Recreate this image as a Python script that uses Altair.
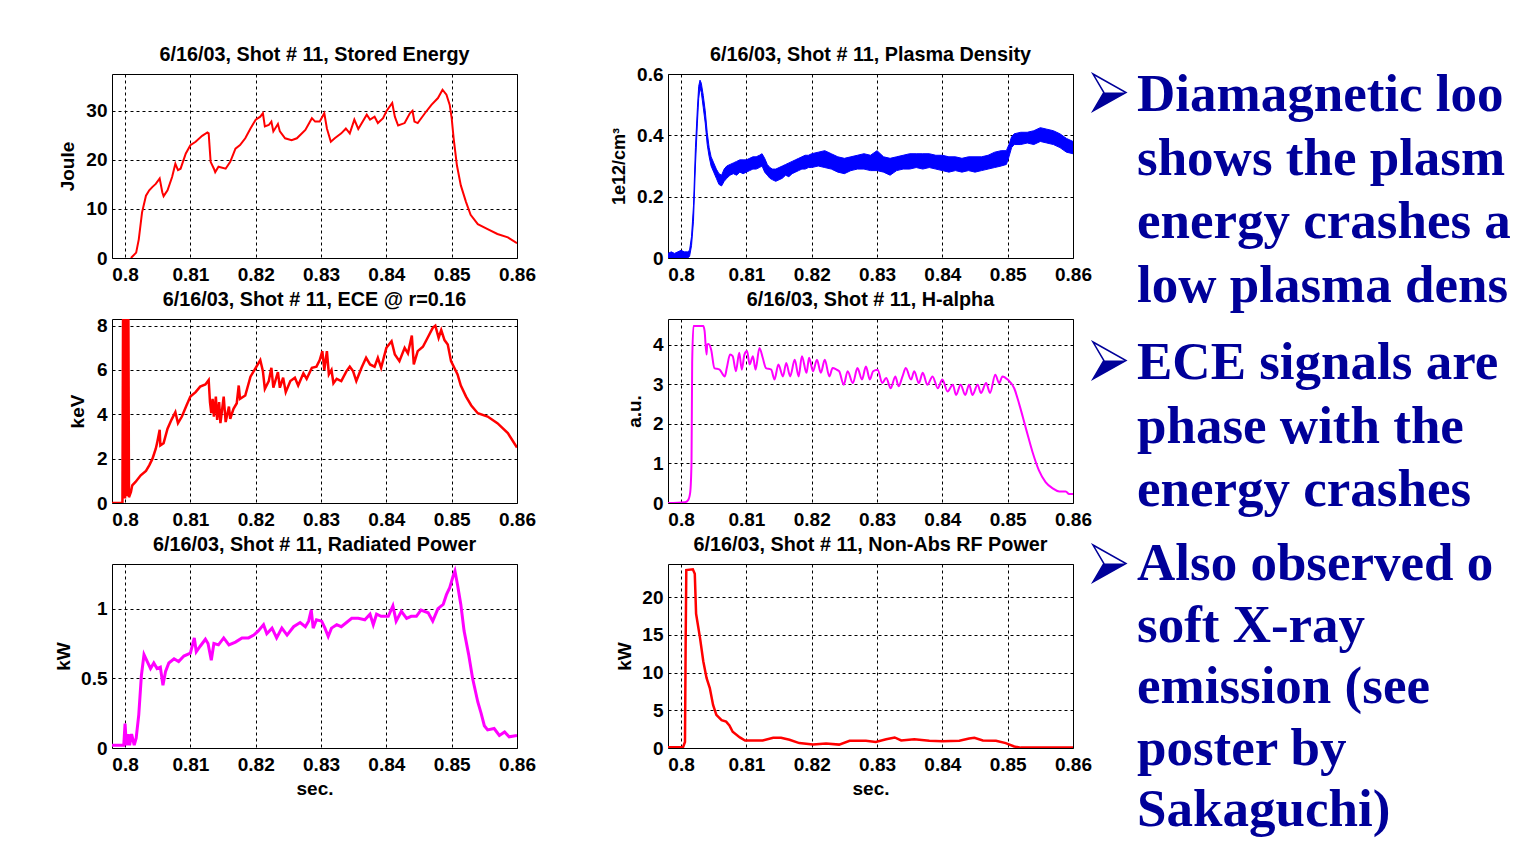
import altair as alt
import pandas as pd

FONT = "Liberation Sans"
SERIF = "Liberation Serif"
NAVY = "#000099"
RED = "#ff0000"
BLUE = "#0000ff"
MAGENTA = "#ff00ff"

T_DOMAIN = [0.798, 0.86]
X_TICKS = [0.8, 0.81, 0.82, 0.83, 0.84, 0.85, 0.86]
PW, PH = 405, 184

# ---- Stored Energy (Joule) ----
STORED = [
    (0.8009, 0), (0.8017, 1.1), (0.8021, 3.8), (0.8026, 9.3), (0.8032, 12.7), (0.8037, 13.8),
    (0.8042, 14.5), (0.8047, 15.1), (0.8053, 16.2), (0.8057, 13.4), (0.8059, 12.6), (0.8065, 13.8),
    (0.8072, 16.5), (0.8077, 19.2), (0.8081, 17.9), (0.8085, 18.2), (0.8093, 21.3), (0.8100, 23.0),
    (0.8108, 23.7), (0.8118, 24.9), (0.8126, 25.6), (0.8128, 25.4), (0.8131, 19.6), (0.8136, 18.2),
    (0.8138, 17.5), (0.8143, 18.6), (0.8154, 18.2), (0.8161, 19.6), (0.8169, 22.3), (0.8176, 23.0),
    (0.8184, 24.4), (0.8192, 26.4), (0.8200, 28.2), (0.8207, 28.8), (0.8211, 29.5), (0.8214, 26.8),
    (0.8220, 27.1), (0.8224, 27.8), (0.8227, 25.8), (0.8234, 27.3), (0.8237, 25.8), (0.8245, 24.4),
    (0.8255, 24.0), (0.8263, 24.4), (0.8276, 26.1), (0.8286, 28.5), (0.8291, 27.8), (0.8298, 27.8),
    (0.8305, 29.5), (0.8309, 26.4), (0.8315, 23.7), (0.8321, 24.4), (0.8331, 25.4), (0.8338, 26.4),
    (0.8344, 25.4), (0.8351, 28.2), (0.8357, 26.3), (0.8370, 29.2), (0.8375, 28.2), (0.8382, 28.8),
    (0.8387, 27.5), (0.8395, 28.5), (0.8400, 29.9), (0.8409, 31.6), (0.8413, 28.8), (0.8418, 27.0),
    (0.8428, 27.5), (0.8436, 29.5), (0.8440, 30.0), (0.8443, 27.8), (0.8448, 27.5), (0.8459, 29.5),
    (0.8469, 31.2), (0.8479, 32.6), (0.8486, 34.3), (0.8492, 33.3), (0.8497, 31.2), (0.8500, 28.5),
    (0.8503, 24.4), (0.8508, 18.9), (0.8514, 14.8), (0.8522, 11.4), (0.8529, 8.8), (0.8540, 6.9),
    (0.8555, 5.9), (0.8570, 4.9), (0.8586, 4.2), (0.8600, 3.0),
]

# ---- Plasma Density (1e12/cm^3): noisy band (t, low, high) ----
DENSITY = [
    (0.798, 0.0, 0.015), (0.7985, 0.0, 0.02), (0.799, 0.0, 0.015), (0.7995, 0.0, 0.02),
    (0.8, 0.0, 0.025), (0.8005, 0.0, 0.02), (0.801, 0.0, 0.02), (0.8013, 0.005, 0.025),
    (0.8016, 0.04, 0.07), (0.8019, 0.12, 0.17), (0.8022, 0.30, 0.36), (0.8025, 0.44, 0.49),
    (0.8027, 0.52, 0.56), (0.8029, 0.555, 0.58), (0.8031, 0.54, 0.57), (0.8034, 0.49, 0.53),
    (0.8037, 0.44, 0.48), (0.804, 0.37, 0.41), (0.8043, 0.33, 0.36), (0.8046, 0.30, 0.33),
    (0.805, 0.28, 0.31), (0.8054, 0.26, 0.29), (0.8058, 0.24, 0.275), (0.8062, 0.235, 0.27),
    (0.8066, 0.25, 0.29), (0.807, 0.26, 0.30), (0.8075, 0.27, 0.305), (0.808, 0.275, 0.31),
    (0.8085, 0.27, 0.315), (0.809, 0.28, 0.32), (0.8095, 0.275, 0.32), (0.81, 0.28, 0.32),
    (0.8105, 0.285, 0.325), (0.811, 0.29, 0.33), (0.8115, 0.29, 0.33), (0.812, 0.295, 0.335),
    (0.8124, 0.30, 0.34), (0.8128, 0.28, 0.325), (0.8132, 0.27, 0.305), (0.8136, 0.26, 0.295),
    (0.814, 0.255, 0.29), (0.8145, 0.25, 0.29), (0.815, 0.255, 0.295), (0.8155, 0.26, 0.30),
    (0.816, 0.27, 0.305), (0.8165, 0.265, 0.31), (0.817, 0.275, 0.315), (0.8175, 0.28, 0.32),
    (0.818, 0.285, 0.325), (0.8185, 0.29, 0.33), (0.819, 0.29, 0.335), (0.8195, 0.295, 0.335),
    (0.82, 0.295, 0.34), (0.821, 0.30, 0.345), (0.822, 0.295, 0.35), (0.823, 0.29, 0.34),
    (0.824, 0.28, 0.33), (0.825, 0.275, 0.325), (0.826, 0.285, 0.33), (0.827, 0.29, 0.335),
    (0.828, 0.29, 0.34), (0.829, 0.285, 0.335), (0.83, 0.285, 0.35), (0.831, 0.28, 0.33),
    (0.832, 0.27, 0.325), (0.833, 0.285, 0.33), (0.834, 0.29, 0.335), (0.835, 0.29, 0.34),
    (0.836, 0.295, 0.34), (0.837, 0.29, 0.34), (0.838, 0.295, 0.34), (0.839, 0.29, 0.335),
    (0.84, 0.285, 0.335), (0.841, 0.28, 0.33), (0.842, 0.285, 0.33), (0.843, 0.28, 0.325),
    (0.844, 0.285, 0.33), (0.845, 0.28, 0.33), (0.846, 0.285, 0.33), (0.847, 0.29, 0.335),
    (0.848, 0.295, 0.345), (0.849, 0.30, 0.35), (0.8498, 0.305, 0.35), (0.8502, 0.33, 0.37),
    (0.8506, 0.36, 0.395), (0.851, 0.37, 0.405), (0.852, 0.37, 0.41), (0.853, 0.375, 0.41),
    (0.854, 0.37, 0.415), (0.855, 0.38, 0.425), (0.856, 0.375, 0.42), (0.857, 0.37, 0.415),
    (0.858, 0.36, 0.405), (0.859, 0.345, 0.39), (0.86, 0.34, 0.38),
]

# ---- ECE @ r=0.16 (keV) ----
ECE = [
    (0.798, 0), (0.7996, 0), (0.7997, 9), (0.7998, 0.2), (0.7999, 9), (0.8000, 0.2), (0.8001, 9),
    (0.8002, 0.3), (0.8003, 9), (0.8004, 0.3), (0.8005, 9), (0.8006, 0.26), (0.8009, 0.5),
    (0.8011, 0.8), (0.8016, 0.95), (0.8024, 1.25), (0.8032, 1.45), (0.8037, 1.7), (0.8042, 2.0),
    (0.8047, 2.45), (0.8049, 2.7), (0.8053, 3.3), (0.8054, 2.6), (0.8059, 2.7), (0.8065, 3.35),
    (0.8071, 3.75), (0.8077, 4.1), (0.8081, 3.6), (0.8087, 3.9), (0.8094, 4.4), (0.8100, 4.8),
    (0.8108, 5.0), (0.8115, 5.25), (0.8123, 5.35), (0.8128, 5.55), (0.8130, 4.55), (0.8132, 4.05),
    (0.8134, 4.7), (0.8136, 3.9), (0.8139, 4.8), (0.8141, 3.75), (0.8144, 4.55), (0.8146, 3.6),
    (0.8151, 4.8), (0.8154, 3.65), (0.8159, 4.35), (0.8161, 3.8), (0.8166, 4.25), (0.8171, 4.5),
    (0.8174, 5.3), (0.8176, 4.7), (0.8184, 4.85), (0.8192, 5.7), (0.8200, 6.1), (0.8207, 6.45),
    (0.8211, 5.95), (0.8214, 5.15), (0.8220, 5.5), (0.8224, 6.1), (0.8227, 5.2), (0.8234, 5.9),
    (0.8237, 5.2), (0.8242, 5.65), (0.8246, 5.0), (0.8253, 5.5), (0.8260, 5.65), (0.8265, 5.3),
    (0.8273, 5.85), (0.8278, 5.6), (0.8286, 6.1), (0.8293, 6.15), (0.8298, 6.45), (0.8302, 6.85),
    (0.8305, 6.0), (0.8309, 6.85), (0.8312, 5.8), (0.8316, 6.0), (0.8319, 5.4), (0.8324, 5.6),
    (0.8331, 5.5), (0.8339, 5.95), (0.8344, 6.15), (0.8349, 5.95), (0.8354, 5.5), (0.8362, 6.1),
    (0.8369, 6.55), (0.8375, 6.25), (0.8382, 6.15), (0.8387, 6.55), (0.8392, 6.1), (0.8400, 7.0),
    (0.8408, 7.3), (0.8413, 6.7), (0.8420, 6.4), (0.8428, 7.0), (0.8433, 6.75), (0.8439, 7.55),
    (0.8442, 6.25), (0.8448, 6.85), (0.8456, 7.05), (0.8464, 7.5), (0.8471, 7.9), (0.8475, 8.0),
    (0.8480, 7.45), (0.8484, 7.8), (0.8489, 7.35), (0.8494, 7.15), (0.8499, 6.4), (0.8504, 6.1),
    (0.8509, 5.8), (0.8514, 5.3), (0.8522, 4.8), (0.8530, 4.4), (0.8540, 4.05), (0.8555, 3.9),
    (0.8570, 3.6), (0.8586, 3.15), (0.8600, 2.5),
]

# ---- H-alpha (a.u.) ----
HALPHA = [
    (0.798, 0), (0.8006, 0.02), (0.8011, 0.08), (0.8014, 0.27), (0.8016, 1.04), (0.8017, 3.54),
    (0.8019, 4.47), (0.8034, 4.47), (0.8036, 4.35), (0.8039, 3.75), (0.8040, 4.0), (0.8042, 4.02),
    (0.8046, 3.88), (0.8051, 3.41), (0.8059, 3.37), (0.8067, 3.2), (0.8070, 3.41), (0.8075, 3.75),
    (0.8079, 3.71), (0.8084, 3.33), (0.8089, 3.8), (0.8093, 3.37), (0.8097, 3.75), (0.8101, 3.84),
    (0.8105, 3.5), (0.8110, 3.71), (0.8114, 3.37), (0.8120, 3.92), (0.8125, 3.67), (0.8130, 3.41),
    (0.8138, 3.37), (0.8143, 3.12), (0.8149, 3.5), (0.8156, 3.2), (0.8161, 3.54), (0.8167, 3.2),
    (0.8174, 3.62), (0.8180, 3.2), (0.8185, 3.71), (0.8192, 3.29), (0.8196, 3.67), (0.8202, 3.33),
    (0.8208, 3.62), (0.8214, 3.29), (0.8220, 3.62), (0.8227, 3.2), (0.8232, 3.41), (0.8238, 3.37),
    (0.8242, 3.33), (0.8249, 2.99), (0.8255, 3.33), (0.8263, 3.03), (0.8270, 3.41), (0.8277, 3.12),
    (0.8283, 3.45), (0.8289, 3.12), (0.8294, 3.33), (0.8301, 3.37), (0.8308, 3.03), (0.8314, 3.16),
    (0.8321, 2.9), (0.8328, 3.2), (0.8333, 2.95), (0.8339, 3.2), (0.8344, 3.41), (0.8352, 3.12),
    (0.8357, 3.33), (0.8364, 3.03), (0.8370, 3.29), (0.8377, 2.99), (0.8385, 3.2), (0.8393, 2.9),
    (0.8400, 3.12), (0.8408, 2.82), (0.8416, 2.99), (0.8421, 2.73), (0.8428, 2.99), (0.8435, 2.73),
    (0.8441, 2.99), (0.8446, 2.73), (0.8454, 2.99), (0.8459, 2.78), (0.8467, 3.03), (0.8473, 2.78),
    (0.8481, 3.24), (0.8487, 3.03), (0.8492, 3.2), (0.8500, 3.12), (0.8510, 2.9), (0.8518, 2.48),
    (0.8528, 1.88), (0.8538, 1.29), (0.8548, 0.82), (0.8558, 0.53), (0.8569, 0.37), (0.8579, 0.29),
    (0.8589, 0.29), (0.8594, 0.23), (0.8600, 0.23),
]

# ---- Radiated Power (kW) ----
RADIATED = [
    (0.798, 0.02), (0.7998, 0.02), (0.8000, 0.175), (0.8002, 0.02), (0.8005, 0.1), (0.8007, 0.02),
    (0.8010, 0.1), (0.8014, 0.02), (0.8017, 0.07), (0.8021, 0.24), (0.8025, 0.52), (0.8029, 0.67),
    (0.8034, 0.62), (0.8039, 0.57), (0.8044, 0.61), (0.8049, 0.57), (0.8054, 0.58), (0.8058, 0.45),
    (0.8062, 0.55), (0.8067, 0.61), (0.8075, 0.64), (0.8082, 0.62), (0.8090, 0.66), (0.8100, 0.68),
    (0.8106, 0.79), (0.8109, 0.69), (0.8115, 0.73), (0.8123, 0.78), (0.8127, 0.75), (0.8132, 0.63),
    (0.8136, 0.75), (0.8143, 0.74), (0.8151, 0.79), (0.8159, 0.74), (0.8169, 0.76), (0.8179, 0.79),
    (0.8189, 0.79), (0.8197, 0.81), (0.8204, 0.84), (0.8212, 0.885), (0.8217, 0.82), (0.8225, 0.86),
    (0.8232, 0.79), (0.8240, 0.86), (0.8248, 0.81), (0.8258, 0.87), (0.8268, 0.9), (0.8276, 0.87),
    (0.8281, 0.91), (0.8285, 0.99), (0.8288, 0.86), (0.8293, 0.92), (0.8301, 0.91), (0.8306, 0.86),
    (0.8311, 0.8), (0.8316, 0.86), (0.8324, 0.885), (0.8331, 0.87), (0.8339, 0.9), (0.8347, 0.93),
    (0.8357, 0.93), (0.8367, 0.92), (0.8375, 0.96), (0.8380, 0.885), (0.8385, 0.96), (0.8392, 0.945),
    (0.8403, 0.945), (0.8410, 1.02), (0.8415, 0.91), (0.8423, 0.98), (0.8431, 0.93), (0.8438, 0.945),
    (0.8446, 0.945), (0.8453, 0.99), (0.8464, 0.97), (0.8471, 0.91), (0.8479, 1.0), (0.8487, 1.03),
    (0.8492, 1.1), (0.8497, 1.15), (0.8502, 1.23), (0.8505, 1.27), (0.8509, 1.17), (0.8514, 1.03),
    (0.8519, 0.84), (0.8526, 0.67), (0.8532, 0.5), (0.8540, 0.33), (0.8545, 0.25), (0.8550, 0.16),
    (0.8555, 0.13), (0.8565, 0.14), (0.8573, 0.09), (0.8581, 0.115), (0.8588, 0.08), (0.8600, 0.09),
]

# ---- Non-Abs RF Power (kW) ----
RF = [
    (0.798, 0.1), (0.8003, 0.1), (0.8006, 0.8), (0.8007, 13.75), (0.8008, 23.6), (0.8018, 23.7),
    (0.8021, 23.1), (0.8023, 17.8), (0.8029, 14.6), (0.8034, 11.5), (0.8039, 9.3), (0.8044, 7.95),
    (0.8049, 5.7), (0.8054, 4.4), (0.8062, 3.7), (0.8069, 3.5), (0.8074, 3.0), (0.8079, 2.15),
    (0.8090, 1.4), (0.8098, 1.0), (0.8110, 1.0), (0.8125, 1.0), (0.8141, 1.35), (0.8153, 1.35),
    (0.8166, 1.1), (0.8181, 0.65), (0.8202, 0.45), (0.8222, 0.6), (0.8242, 0.45), (0.8258, 0.95),
    (0.8283, 0.95), (0.8298, 0.8), (0.8314, 1.15), (0.8327, 1.4), (0.8337, 1.0), (0.8357, 1.15),
    (0.8380, 0.95), (0.8400, 0.9), (0.8426, 0.95), (0.8441, 1.25), (0.8449, 1.35), (0.8462, 1.0),
    (0.8482, 0.95), (0.8497, 0.65), (0.8510, 0.2), (0.8520, 0.05), (0.8600, 0.05),
]

BULLETS = [
    ["Diamagnetic loop", "shows the plasma", "energy crashes at", "low plasma density"],
    ["ECE signals are in", "phase with the", "energy crashes"],
    ["Also observed on", "soft X-ray", "emission (see", "poster by", "Sakaguchi)"],
]

ARROW_OUTLINE = "M -1 -1.12 L 1 0 L -1 1.12 L -0.34 0 Z"
ARROW_SHADE = "M -0.34 0 L 1 0 L -1 1.12 Z"


def x_enc(bottom):
    ax = dict(values=X_TICKS, format=".2~f", labelPadding=7)
    if bottom:
        ax.update(title="sec.", titleX=PW / 2, titleY=46, titleBaseline="alphabetic", titleAlign="center")
    else:
        ax.update(title=None)
    return alt.X("t:Q", scale=alt.Scale(domain=T_DOMAIN, nice=False, zero=False), axis=alt.Axis(**ax))


def y_enc(field, dom, ticks, fmt, title, tx, tsize=19):
    return alt.Y(
        f"{field}:Q",
        scale=alt.Scale(domain=dom, nice=False, zero=False),
        axis=alt.Axis(values=ticks, format=fmt, title=title, titleX=tx, titleY=PH / 2, titleAngle=270,
                      titleBaseline="middle", titleAlign="center", titleFontSize=tsize),
    )


def line_panel(data, color, sw, title, toff, ytitle, dom, ticks, fmt, tx, bottom=False, interp="linear"):
    df = pd.DataFrame(data, columns=["t", "v"])
    ch = alt.Chart(df).mark_line(color=color, strokeWidth=sw, clip=True, interpolate=interp).encode(
        x=x_enc(bottom), y=y_enc("v", dom, ticks, fmt, ytitle, tx)
    )
    return ch.properties(width=PW, height=PH, title=alt.TitleParams(title, offset=toff))


p1 = line_panel(STORED, RED, 2, "6/16/03, Shot # 11, Stored Energy", 9, "Joule",
                [0, 37.5], [0, 10, 20, 30], "d", -45)
p3 = line_panel(ECE, RED, 2.5, "6/16/03, Shot # 11, ECE @ r=0.16", 7, "keV",
                [0, 8.3], [0, 2, 4, 6, 8], "d", -35)
p4 = line_panel(HALPHA, MAGENTA, 2, "6/16/03, Shot # 11, H-alpha", 9, "a.u.",
                [0, 4.65], [0, 1, 2, 3, 4], "d", -34, interp="monotone")
p5 = line_panel(RADIATED, MAGENTA, 3, "6/16/03, Shot # 11, Radiated Power", 9, "kW",
                [0, 1.32], [0, 0.5, 1], ".1~f", -48.5, bottom=True)
p6 = line_panel(RF, RED, 2.5, "6/16/03, Shot # 11, Non-Abs RF Power", 9, "kW",
                [0, 24.4], [0, 5, 10, 15, 20], "d", -44, bottom=True)

# density panel, carrying the bullet text on its right
den = pd.DataFrame(DENSITY, columns=["t", "lo", "hi"])
band = alt.Chart(den).mark_area(color=BLUE, stroke=BLUE, strokeWidth=1, clip=True).encode(
    x=x_enc(False),
    y=y_enc("lo", [0, 0.6], [0, 0.2, 0.4, 0.6], ".1~f", "1e12/cm³", -48.5, tsize=18),
    y2="hi:Q",
)
one = pd.DataFrame({"k": [0]})
layers = [band]
# (first baseline relative to the panel top, line spacing, arrow centre relative to panel top)
BLOCK_POS = [(37, 63.5, 18.5), (305, 63.5, 286.5), (506, 61.5, 489.5)]
for lines, (ybase, lh, yarrow) in zip(BULLETS, BLOCK_POS):
    layers.append(
        alt.Chart(one).mark_point(shape=ARROW_OUTLINE, size=1089, filled=False, stroke=NAVY,
                                  strokeWidth=1.5, opacity=1).encode(
            x=alt.value(441.5), y=alt.value(yarrow))
    )
    layers.append(
        alt.Chart(one).mark_point(shape=ARROW_SHADE, size=1089, filled=True, fill=NAVY,
                                  strokeWidth=0, opacity=1).encode(
            x=alt.value(441.5), y=alt.value(yarrow))
    )
    layers.append(
        alt.Chart(one).mark_text(font=SERIF, fontSize=53, fontWeight="bold", color=NAVY, align="left",
                                 baseline="alphabetic", lineHeight=lh, limit=383,
                                 ellipsis="\u200b").encode(
            x=alt.value(469), y=alt.value(ybase), text=alt.value(lines))
    )
p2 = alt.layer(*layers).properties(
    width=PW, height=PH, title=alt.TitleParams("6/16/03, Shot # 11, Plasma Density", offset=0)
)

chart = alt.concat(p1, p2, p3, p4, p5, p6, columns=2, spacing={"row": 61, "column": 151}, bounds="flush")
chart = chart.properties(padding={"left": 46, "top": 36, "right": 0, "bottom": 0}, background="white")
chart = (
    chart.configure_view(stroke="black", strokeWidth=1)
    .configure_axis(
        labelFont=FONT, labelFontSize=19, labelFontWeight="bold", labelColor="black", labelPadding=5,
        labelFlush=False, titleFont=FONT, titleFontSize=19, titleFontWeight="bold", titleColor="black",
        grid=True, gridColor="black", gridDash=[3, 3], gridWidth=1, gridOpacity=1,
        domain=False, ticks=False, tickSize=0,
    )
    .configure_title(font=FONT, fontSize=19.8, fontWeight="bold", color="black", anchor="middle",
                     frame="group", baseline="alphabetic")
)

chart.save("out.html", embed_options={"renderer": "svg", "actions": False})
